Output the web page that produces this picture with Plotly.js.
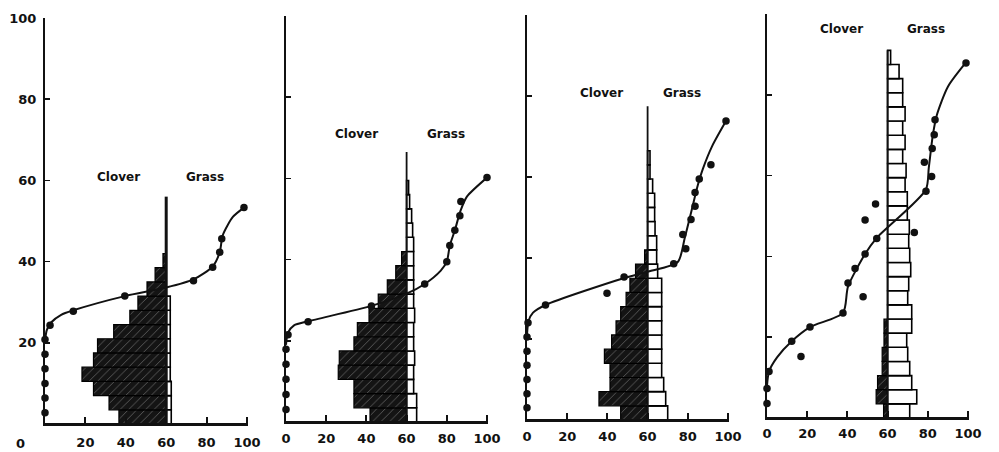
<!DOCTYPE html>
<html>
<head>
<meta charset="utf-8">
<script src="https://cdn.plot.ly/plotly-3.0.1.min.js"></script>
<style>
  html, body { margin: 0; padding: 0; background: #fff; overflow: hidden; }
  #chart { width: 999px; height: 452px; }
</style>
</head>
<body>
<div id="chart"></div>
<script>
// Four stands: clover (left of the divide) and grass (right of it) per 3.5-unit layer,
// plus the observed points and the fitted curve for each stand.
const BIN = 3.5;
const DIVIDE = 60;

const xTickVals = [0, 20, 40, 60, 80, 100];
const xTickText = ['0', '20', '40', '60', '80', '100'];
const yTickVals = [20, 40, 60, 80, 100];
const yTickText = ['20', '40', '60', '80', '100'];
const groupNames = ['Clover', 'Grass'];

// Stand 1
const clover1 = [23.4, 28.3, 36, 41.7, 36, 34, 26, 18, 14, 9.5, 5.5, 1.6];
const grass1 = [2.5, 2.5, 2.5, 2, 2, 2, 2, 2, 2];
const obsX1 = [0, 0, 0, 0, 0, 0, 2.5, 14, 39.5, 73.5, 83, 86.5, 87.5, 98.5];
const obsY1 = [2.8, 6.4, 10.0, 13.6, 17.2, 20.8, 24.3, 27.8, 31.5, 35.3, 38.6, 42.3, 45.6, 53.3];
const fitX1 = [0, 0.8, 3, 8, 14, 39.5, 60, 73.5, 83, 86.5, 88, 93, 98.5];
const fitY1 = [20, 23, 25, 26.9, 28, 31.5, 33.6, 35.6, 38.8, 42.3, 46.5, 51, 53.3];

// Stand 2
const clover2 = [18.2, 26.2, 26.2, 34, 33.5, 26.2, 24.5, 18.7, 14.1, 9.6, 5.4, 2.5];
const grass2 = [5, 5, 3.5, 3.5, 4, 3.5, 3.5, 4, 3.5, 3.5, 3.5, 3.5, 3.5, 3, 2.5, 1.5, 1];
const obsX2 = [0, 0, 0, 0, 0, 1, 11, 42.5, 69, 80, 81.5, 84, 86.5, 87, 100];
const obsY2 = [3.1, 6.8, 10.5, 14.2, 17.9, 21.5, 24.7, 28.6, 34, 39.5, 43.5, 47.2, 50.8, 54.3, 60.2];
const fitX2 = [0, 1, 4, 11, 42.5, 60, 69, 77, 80, 81.5, 84, 86.8, 90, 100];
const fitY2 = [19, 22, 23.8, 24.8, 28.6, 31.6, 34, 37.3, 39.5, 43.5, 47.2, 52, 55.5, 60.2];

// Stand 3
const clover3 = [13.4, 24.2, 18.7, 18.7, 21.5, 17.9, 15.7, 13.4, 10.7, 8.8, 6, 1.5];
const grass3 = [10, 9, 8, 7, 7, 7, 7, 7, 7, 7, 5, 4.5, 4.5, 3.7, 3.5, 3.5, 2.5, 1.2, 1.2];
const obsX3 = [0, 0, 0, 0, 0, 0, 0.5, 9.2, 39.8, 48.3, 73, 79, 77.5, 81.6, 83.6, 83.6, 85.7, 91.5, 99];
const obsY3 = [3, 6.5, 10, 13.5, 17, 20.5, 24, 28.4, 31.3, 35.3, 38.6, 42.3, 45.8, 49.5, 52.8, 56.2, 59.5, 63, 73.8];
const fitX3 = [0, 0.8, 3, 9.2, 48, 60, 75, 78.5, 82, 85, 87.5, 92, 99];
const fitY3 = [21, 24.5, 26.5, 28.4, 35, 36.6, 39, 45, 52, 58, 62, 67.5, 73.8];

// Stand 4
const clover4 = [2, 5.7, 5, 2.7, 2.7, 1.8, 1.8];
const grass4 = [11, 14.5, 12, 11, 10, 9.5, 12, 12, 10, 10.5, 11.5, 11, 10.5,
                10.8, 9.8, 9.8, 8.7, 9.2, 7.5, 8.7, 7.5, 8.7, 7.5, 7.5, 5.7, 1.5];
const obsX4 = [0, 0, 1, 12.3, 16.9, 21.4, 37.8, 40.3, 43.8, 48.8, 47.8, 54.6, 48.8, 54,
               73.3, 79.1, 81.9, 78.3, 82.2, 83.2, 83.6, 99];
const obsY4 = [3.6, 7.3, 11.5, 19, 15.2, 22.5, 26, 33.4, 37, 40.6, 30, 44.4, 49, 53,
               45.9, 56.1, 59.8, 63.3, 66.7, 70.1, 73.8, 87.9];
const fitX4 = [0, 1, 5, 12.3, 21.4, 37.8, 40.3, 48.8, 54.6, 79, 80.5, 82.5, 84.5, 90, 99];
const fitY4 = [8, 11.5, 15, 19, 22.5, 26, 32.5, 40.6, 44.6, 56.5, 62, 70, 75, 82, 88];

// Height reached by the dividing line in each stand
const dividerTop = [56, 66.5, 77.5, 91];

const stands = [
  { clover: clover1, grass: grass1, ox: obsX1, oy: obsY1, fx: fitX1, fy: fitY1 },
  { clover: clover2, grass: grass2, ox: obsX2, oy: obsY2, fx: fitX2, fy: fitY2 },
  { clover: clover3, grass: grass3, ox: obsX3, oy: obsY3, fx: fitX3, fy: fitY3 },
  { clover: clover4, grass: grass4, ox: obsX4, oy: obsY4, fx: fitX4, fy: fitY4 }
];

// Panel frames in whole pixels, tick-label gaps, and label anchors (axis units)
const W = 999, H = 452;
const frames = [
  { x0: 45, x1: 247, yb: 424, yt: 18, gap: 5 },
  { x0: 286, x1: 487, yb: 422, yt: 16, gap: 3 },
  { x0: 527, x1: 728, yb: 420, yt: 15, gap: 3 },
  { x0: 767, x1: 968, yb: 418, yt: 14, gap: 2 }
];
const nameSpots = [
  { cx: 36.6, gx: 79, y: 60.8 },
  { cx: 35.3, gx: 79.6, y: 71 },
  { cx: 37.3, gx: 77, y: 80.7 },
  { cx: 37.3, gx: 79, y: 96.3 }
];

const INK = '#111';
const FONT = { family: 'DejaVu Sans, Verdana, sans-serif', size: 13, color: INK, weight: 'bold' };
const NAME_FONT = { family: 'DejaVu Sans, Verdana, sans-serif', size: 12, color: INK, weight: 'bold' };

const traces = [];
const layout = {
  width: W, height: H,
  margin: { l: 0, r: 0, t: 0, b: 0 },
  paper_bgcolor: '#fff',
  plot_bgcolor: 'rgba(0,0,0,0)',
  showlegend: false,
  barmode: 'overlay',
  annotations: [],
  shapes: []
};

stands.forEach((s, i) => {
  const n = i + 1;
  const xa = 'x' + (n === 1 ? '' : n);
  const ya = 'y' + (n === 1 ? '' : n);
  const f = frames[i];
  const layerMid = arr => arr.map((_, k) => (k + 0.5) * BIN);

  traces.push({
    type: 'bar', orientation: 'h', xaxis: xa, yaxis: ya,
    y: layerMid(s.clover), x: s.clover, base: s.clover.map(w => DIVIDE - w), width: BIN,
    marker: {
      color: '#141414',
      line: { color: '#000', width: 1.2 },
      pattern: { shape: '/', fgcolor: '#5c5c5c', bgcolor: '#141414', size: 6, solidity: 0.15 }
    },
    hoverinfo: 'skip'
  });

  traces.push({
    type: 'bar', orientation: 'h', xaxis: xa, yaxis: ya,
    y: layerMid(s.grass), x: s.grass, base: DIVIDE, width: BIN,
    marker: { color: '#fff', line: { color: '#000', width: 1.6 } },
    hoverinfo: 'skip'
  });

  traces.push({
    type: 'scatter', mode: 'lines', xaxis: xa, yaxis: ya,
    x: [DIVIDE, DIVIDE], y: [0, dividerTop[i]],
    line: { color: INK, width: n === 1 ? 3 : 1.8 },
    hoverinfo: 'skip'
  });

  traces.push({
    type: 'scatter', mode: 'lines', xaxis: xa, yaxis: ya,
    x: s.fx, y: s.fy,
    line: { color: INK, width: 2, shape: 'spline', smoothing: 0.7 },
    cliponaxis: false, hoverinfo: 'skip'
  });

  traces.push({
    type: 'scatter', mode: 'markers', xaxis: xa, yaxis: ya,
    x: s.ox, y: s.oy,
    marker: { color: INK, size: 7.5 },
    cliponaxis: false, hoverinfo: 'skip'
  });

  const axisBase = {
    showgrid: false, zeroline: false, fixedrange: true,
    showline: true, linecolor: INK,
    ticks: 'inside', ticklen: 5, tickcolor: INK,
    tickfont: FONT, tickmode: 'array'
  };
  layout['xaxis' + (n === 1 ? '' : n)] = Object.assign({}, axisBase, {
    range: [0, 100], linewidth: 2, tickwidth: 1.6,
    domain: [f.x0 / W, f.x1 / W],
    anchor: ya,
    tickvals: n === 1 ? xTickVals.slice(1) : xTickVals,
    ticktext: n === 1 ? xTickText.slice(1) : xTickText,
    ticklabelstandoff: f.gap
  });
  layout['yaxis' + (n === 1 ? '' : n)] = Object.assign({}, axisBase, {
    range: [0, 100], linewidth: 2, tickwidth: 1.6,
    domain: [1 - f.yb / H, 1 - f.yt / H],
    anchor: xa,
    tickvals: yTickVals,
    ticktext: yTickText,
    showticklabels: n === 1,
    ticklabelstandoff: 4
  });

  // Solid 3-pixel strip along the bottom of each panel, with short upright ticks,
  // aligned to whole pixels so the horizontal axis reads as a firm baseline
  const py = v => 1 - v / H;
  const px = v => (f.x0 + v / 100 * (f.x1 - f.x0)) / W;
  layout.shapes.push({
    type: 'rect', xref: 'paper', yref: 'paper', layer: 'above',
    x0: (f.x0 - 1) / W, x1: (f.x1 + 1) / W, y0: py(f.yb + 2), y1: py(f.yb - 1),
    fillcolor: INK, line: { width: 0 }
  });
  xTickVals.slice(1).forEach(v => {
    const cx = Math.round(px(v) * W);
    layout.shapes.push({
      type: 'rect', xref: 'paper', yref: 'paper', layer: 'above',
      x0: (cx - 1) / W, x1: (cx + 1) / W, y0: py(f.yb), y1: py(f.yb - 7),
      fillcolor: INK, line: { width: 0 }
    });
  });

  const sp = nameSpots[i];
  layout.annotations.push(
    { xref: xa, yref: ya, x: sp.cx, y: sp.y, text: groupNames[0], showarrow: false, font: NAME_FONT },
    { xref: xa, yref: ya, x: sp.gx, y: sp.y, text: groupNames[1], showarrow: false, font: NAME_FONT }
  );
});

// Shared origin label beside the first panel
layout.annotations.push({
  xref: 'paper', yref: 'paper', x: 20 / W, y: 1 - 443 / H,
  xanchor: 'center', yanchor: 'middle',
  text: xTickText[0], showarrow: false, font: FONT
});

Plotly.newPlot('chart', traces, layout, { displayModeBar: false, staticPlot: true });
</script>
</body>
</html>
